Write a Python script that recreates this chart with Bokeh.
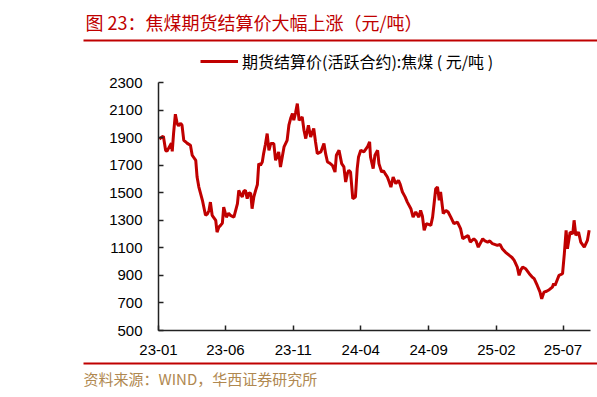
import pandas as pd
from bokeh.plotting import figure
from bokeh.models import (Range1d, FixedTicker, DatetimeTickFormatter, Legend, LegendItem,
                          DatetimeAxis, LinearAxis)
from bokeh.core.properties import value
from bokeh.embed import file_html
from bokeh.resources import INLINE

# ---------------- data ----------------
title_text = "图 23：焦煤期货结算价大幅上涨（元/吨）"
series_name = "期货结算价(活跃合约):焦煤 ( 元/吨 )"
source_text = "资料来源：WIND，华西证券研究所"

dates = [
    "2023-01-03", "2023-01-09", "2023-01-12", "2023-01-17", "2023-01-20", "2023-01-30",
    "2023-02-01", "2023-02-04", "2023-02-08", "2023-02-12", "2023-02-15", "2023-02-20",
    "2023-02-23", "2023-02-27", "2023-03-03", "2023-03-07", "2023-03-14", "2023-03-18",
    "2023-03-26", "2023-03-29", "2023-04-02", "2023-04-10", "2023-04-17", "2023-04-21",
    "2023-04-25", "2023-04-28", "2023-05-02", "2023-05-10", "2023-05-13", "2023-05-17",
    "2023-05-21", "2023-05-25", "2023-05-28", "2023-06-03", "2023-06-08", "2023-06-12",
    "2023-06-20", "2023-06-28", "2023-07-01", "2023-07-05", "2023-07-09", "2023-07-12",
    "2023-07-16", "2023-07-20", "2023-07-24", "2023-07-28", "2023-07-31", "2023-08-04",
    "2023-08-08", "2023-08-12", "2023-08-15", "2023-08-19", "2023-08-23", "2023-08-26",
    "2023-08-30", "2023-09-03", "2023-09-07", "2023-09-11", "2023-09-18", "2023-09-22",
    "2023-09-29", "2023-10-03", "2023-10-07", "2023-10-11", "2023-10-18", "2023-10-22",
    "2023-10-26", "2023-10-30", "2023-11-02", "2023-11-06", "2023-11-10", "2023-11-14",
    "2023-11-21", "2023-11-25", "2023-11-29", "2023-12-05", "2023-12-10", "2023-12-17",
    "2023-12-21", "2023-12-25", "2024-01-02", "2024-01-09", "2024-01-13", "2024-01-17",
    "2024-01-22", "2024-01-28", "2024-02-03", "2024-02-06", "2024-02-12", "2024-02-18",
    "2024-02-23", "2024-02-27", "2024-03-02", "2024-03-05", "2024-03-09", "2024-03-14",
    "2024-03-20", "2024-03-24", "2024-03-27", "2024-04-01", "2024-04-08", "2024-04-16",
    "2024-04-21", "2024-04-23", "2024-04-29", "2024-05-03", "2024-05-09", "2024-05-12",
    "2024-05-18", "2024-05-22", "2024-05-26", "2024-05-31", "2024-06-04", "2024-06-08",
    "2024-06-13", "2024-06-19", "2024-06-25", "2024-06-29", "2024-07-04", "2024-07-10",
    "2024-07-15", "2024-07-23", "2024-07-28", "2024-08-03", "2024-08-10", "2024-08-14",
    "2024-08-18", "2024-08-22", "2024-08-27", "2024-09-01", "2024-09-06", "2024-09-10",
    "2024-09-14", "2024-09-17", "2024-09-21", "2024-09-25", "2024-09-28", "2024-10-04",
    "2024-10-10", "2024-10-15", "2024-10-21", "2024-10-28", "2024-11-05", "2024-11-12",
    "2024-11-17", "2024-11-23", "2024-11-29", "2024-12-04", "2024-12-12", "2024-12-17",
    "2024-12-22", "2025-01-01", "2025-01-06", "2025-01-12", "2025-01-17", "2025-01-23",
    "2025-02-03", "2025-02-09", "2025-02-14", "2025-02-21", "2025-03-02", "2025-03-08",
    "2025-03-13", "2025-03-20", "2025-03-24", "2025-03-28", "2025-04-01", "2025-04-08",
    "2025-04-16", "2025-04-22", "2025-04-27", "2025-05-04", "2025-05-10", "2025-05-14",
    "2025-05-19", "2025-05-25", "2025-05-31", "2025-06-07", "2025-06-10", "2025-06-13",
    "2025-06-19", "2025-06-22", "2025-06-30", "2025-07-04", "2025-07-08", "2025-07-11",
    "2025-07-17", "2025-07-23", "2025-07-26", "2025-07-30", "2025-08-05", "2025-08-10",
    "2025-08-18", "2025-08-25", "2025-08-29",
]
prices = [
    1890, 1905, 1910, 1808, 1800, 1860,
    1800, 1930, 2070, 2004, 1985, 2004,
    1990, 1880, 1870, 1858, 1844, 1772,
    1735, 1614, 1541, 1445, 1336, 1345,
    1372, 1432, 1336, 1300, 1214, 1250,
    1263, 1280, 1396, 1323, 1350, 1336,
    1323, 1421, 1517, 1490, 1469, 1510,
    1517, 1457, 1500, 1493, 1384, 1470,
    1517, 1560, 1711, 1700, 1723, 1784,
    1850, 1929, 1808, 1857, 1857, 1735,
    1796, 1687, 1760, 1832, 1880, 1990,
    2040, 2075, 2026, 2080, 2147, 2026,
    2050, 1953, 1893, 1990, 1905, 1966,
    1870, 1784, 1796, 1857, 1780, 1723,
    1715, 1699, 1650, 1772, 1808, 1711,
    1687, 1578, 1640, 1663, 1650, 1457,
    1469, 1675, 1760, 1808, 1796, 1832,
    1869, 1760, 1675, 1772, 1808, 1711,
    1650, 1660, 1639, 1614, 1580, 1541,
    1614, 1566, 1590, 1560, 1505, 1470,
    1432, 1384, 1323, 1360, 1323, 1372,
    1330, 1227, 1275, 1270, 1263, 1323,
    1440, 1529, 1541, 1445, 1505, 1348,
    1372, 1360, 1323, 1275, 1287, 1239,
    1166, 1178, 1190, 1142, 1166, 1150,
    1105, 1166, 1150, 1142, 1150, 1130,
    1118, 1125, 1094, 1069, 1045, 1030,
    1009, 960, 900, 940, 960, 948,
    912, 890, 876, 827, 780, 730,
    778, 785, 796, 815, 840, 827,
    876, 900, 912, 1057, 1227, 1094,
    1214, 1202, 1300, 1190, 1214, 1142,
    1105, 1154, 1227,
]
x_tick_dates = ["2023-01-01", "2023-06-01", "2023-11-01", "2024-04-01",
                "2024-09-01", "2025-02-01", "2025-07-01"]
y_ticks = [500, 700, 900, 1100, 1300, 1500, 1700, 1900, 2100, 2300]
x_start, x_end = "2023-01-01", "2025-09-01"
y_start, y_end = 500, 2300

# ---------------- layout (canvas pixels) ----------------
RED = "#C00000"
W, H = 597, 397
AX_LEFT, AX_RIGHT = 158, 590      # plot area left/right
AX_TOP, AX_BOTTOM = 82, 330       # plot area top/bottom (from top)
NUM_FONT = "Liberation Sans"
CJK_FONT = "Noto Sans CJK SC"

d0 = pd.Timestamp(x_start).value // 10**6
d1 = pd.Timestamp(x_end).value // 10**6
ms_per_px = (d1 - d0) / (AX_RIGHT - AX_LEFT)
u_per_px = (y_end - y_start) / (AX_BOTTOM - AX_TOP)

p = figure(width=W, height=H, output_backend="svg", toolbar_location=None,
           x_axis_location=None, y_axis_location=None, min_border=0,
           x_range=Range1d(d0 - AX_LEFT * ms_per_px, d0 + (W - AX_LEFT) * ms_per_px),
           y_range=Range1d(y_start - (H - AX_BOTTOM) * u_per_px, y_end + AX_TOP * u_per_px))
p.grid.visible = False
p.outline_line_color = None
p.extra_x_ranges = {"px": Range1d(0, W)}
p.extra_y_ranges = {"px": Range1d(H, 0)}

r = p.line(pd.to_datetime(dates), prices, line_color=RED, line_width=3)

xaxis = DatetimeAxis(fixed_location=y_start, bounds=(d0, d1),
                     ticker=FixedTicker(ticks=[pd.Timestamp(d).value // 10**6 for d in x_tick_dates]),
                     formatter=DatetimeTickFormatter(days="%y-%m", months="%y-%m", years="%y-%m"))
yaxis = LinearAxis(fixed_location=d0, bounds=(y_start, y_end), ticker=FixedTicker(ticks=y_ticks))
for ax in (xaxis, yaxis):
    ax.major_tick_in = 5
    ax.major_tick_out = 0
    ax.minor_tick_line_color = None
    ax.axis_line_color = "#222222"
    ax.axis_line_width = 1.5
    ax.major_tick_line_color = "#222222"
    ax.major_tick_line_width = 1.5
    ax.major_label_text_font = NUM_FONT
    ax.major_label_text_font_size = "15px"
    ax.major_label_text_color = "#000000"
yaxis.major_label_standoff = 16
xaxis.major_label_standoff = 14
p.add_layout(xaxis, "below")
p.add_layout(yaxis, "left")

legend = Legend(items=[LegendItem(label=series_name, renderers=[r])],
                location=(200, 324), orientation="horizontal",
                padding=0, margin=0, spacing=0,
                glyph_width=38, glyph_height=16, label_standoff=4,
                label_text_font=CJK_FONT, label_text_font_size="16px",
                label_text_color="#000000", label_height=16,
                background_fill_alpha=0, border_line_color=None)
p.add_layout(legend, "center")

# title + rule
p.text(x=[85], y=[21], text=[title_text], text_font=value(CJK_FONT),
       text_font_size="18px", text_color=RED, text_baseline="middle", text_align="left",
       x_range_name="px", y_range_name="px")
p.segment(x0=[83], y0=[40], x1=[W], y1=[40], line_color=RED, line_width=2,
          x_range_name="px", y_range_name="px")

# footer rule + source
p.segment(x0=[83], y0=[363], x1=[W], y1=[363], line_color=RED, line_width=2,
          x_range_name="px", y_range_name="px")
p.text(x=[83], y=[378], text=[source_text], text_font=value(CJK_FONT),
       text_font_size="15px", text_color="#B08850", text_baseline="middle", text_align="left",
       x_range_name="px", y_range_name="px")

open("out.html", "w").write(file_html(p, INLINE))
